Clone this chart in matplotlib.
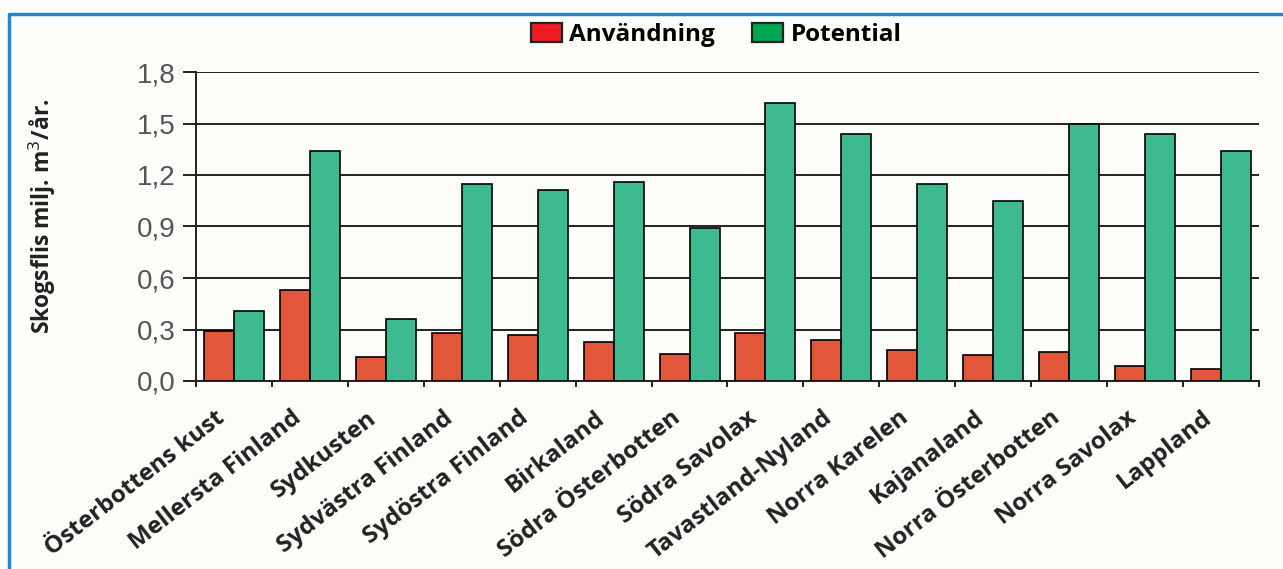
"""Skogsflis: användning och potential per landskap."""

import matplotlib

matplotlib.use("Agg")
import matplotlib.pyplot as plt
import matplotlib.transforms as mtransforms
import numpy as np
from matplotlib.lines import Line2D
from matplotlib.patches import Patch
from matplotlib.ticker import FuncFormatter, FixedLocator

REGIONS = [
    "Österbottens kust", "Mellersta Finland", "Sydkusten", "Sydvästra Finland",
    "Sydöstra Finland", "Birkaland", "Södra Österbotten", "Södra Savolax",
    "Tavastland-Nyland", "Norra Karelen", "Kajanaland", "Norra Österbotten",
    "Norra Savolax", "Lappland",
]
ANVANDNING = [0.29, 0.53, 0.14, 0.28, 0.27, 0.23, 0.16, 0.28, 0.24, 0.18, 0.15, 0.17, 0.09, 0.07]
POTENTIAL = [0.41, 1.34, 0.36, 1.15, 1.11, 1.16, 0.89, 1.62, 1.44, 1.15, 1.05, 1.50, 1.44, 1.34]
YTICKS = [0.0, 0.3, 0.6, 0.9, 1.2, 1.5, 1.8]

RED = "#e2573a"
GREEN = "#3dba8f"
LEG_RED = "#ed1c24"
LEG_GREEN = "#00a651"
INK = "#222222"
BG = "#fdfdf9"


def main():
    fig = plt.figure(figsize=(12.83, 5.69), dpi=100, facecolor=BG)
    ax = fig.add_axes([196 / 1283, 1 - 381 / 569, (1259 - 196) / 1283, (381 - 72) / 569])
    ax.set_facecolor(BG)

    x = np.arange(len(REGIONS))
    w = 0.395
    ax.bar(x - w / 2, ANVANDNING, w, color=RED, edgecolor="black", linewidth=1.2, zorder=3)
    ax.bar(x + w / 2, POTENTIAL, w, color=GREEN, edgecolor="black", linewidth=1.2, zorder=3)

    ax.set_xlim(-0.5, len(REGIONS) - 0.5)
    ax.set_ylim(0, 1.8)
    ax.set_yticks(YTICKS)
    ax.yaxis.set_major_formatter(FuncFormatter(lambda v, _: f"{v:.1f}".replace(".", ",")))
    ax.yaxis.grid(True, color=INK, linewidth=1.4, zorder=1)
    ax.tick_params(axis="y", length=9.5, width=1.4, color=INK, pad=5,
                   labelsize=20, labelcolor="#555555")
    for lab in ax.get_yticklabels():
        lab.set_family("Liberation Sans")

    ax.set_xticks(x)
    ax.xaxis.set_minor_locator(FixedLocator(np.arange(-0.5, len(REGIONS), 1.0)))
    ax.tick_params(axis="x", which="major", length=0, pad=18)
    ax.tick_params(axis="x", which="minor", length=4, width=1.4, color=INK)
    ax.set_xticklabels(REGIONS, rotation=38, ha="right", va="top", rotation_mode="anchor",
                       fontsize=17.5, fontweight="bold", color=INK, family="Open Sans")
    shift = mtransforms.ScaledTranslation(-19 / 100, 0, fig.dpi_scale_trans)
    for lab in ax.get_xticklabels():
        lab.set_transform(lab.get_transform() + shift)

    for side in ("top", "right"):
        ax.spines[side].set_visible(False)
    for side in ("left", "bottom"):
        ax.spines[side].set_color(INK)
        ax.spines[side].set_linewidth(1.4)
    ax.spines["left"].set_zorder(4)

    fig.text(58 / 1283, 1 - 216 / 569, "Skogsflis milj. m$^3$/år.", rotation=90,
             ha="right", va="center", fontsize=16.5, fontweight="bold",
             color=INK, family="Open Sans")

    handles = [
        Patch(facecolor=LEG_RED, edgecolor=INK, linewidth=1.6, label="Användning"),
        Patch(facecolor=LEG_GREEN, edgecolor=INK, linewidth=1.6, label="Potential"),
    ]
    fig.legend(handles=handles, loc="center", bbox_to_anchor=(716 / 1283, 1 - 35 / 569),
               ncol=2, frameon=False, handlelength=1.3, handleheight=0.8,
               handletextpad=0.3, columnspacing=1.5,
               prop={"family": "Open Sans", "weight": "bold", "size": 17.5})

    # blå ram (vänster + topp)
    fig.add_artist(Line2D([9 / 1283, 9 / 1283, 1.0], [0.0, 1 - 14 / 569, 1 - 14 / 569],
                          transform=fig.transFigure, color="#1b8bd6", linewidth=2.5))

    fig.savefig("out.png", dpi=100, facecolor=BG)
    plt.close(fig)


if __name__ == "__main__":
    main()
